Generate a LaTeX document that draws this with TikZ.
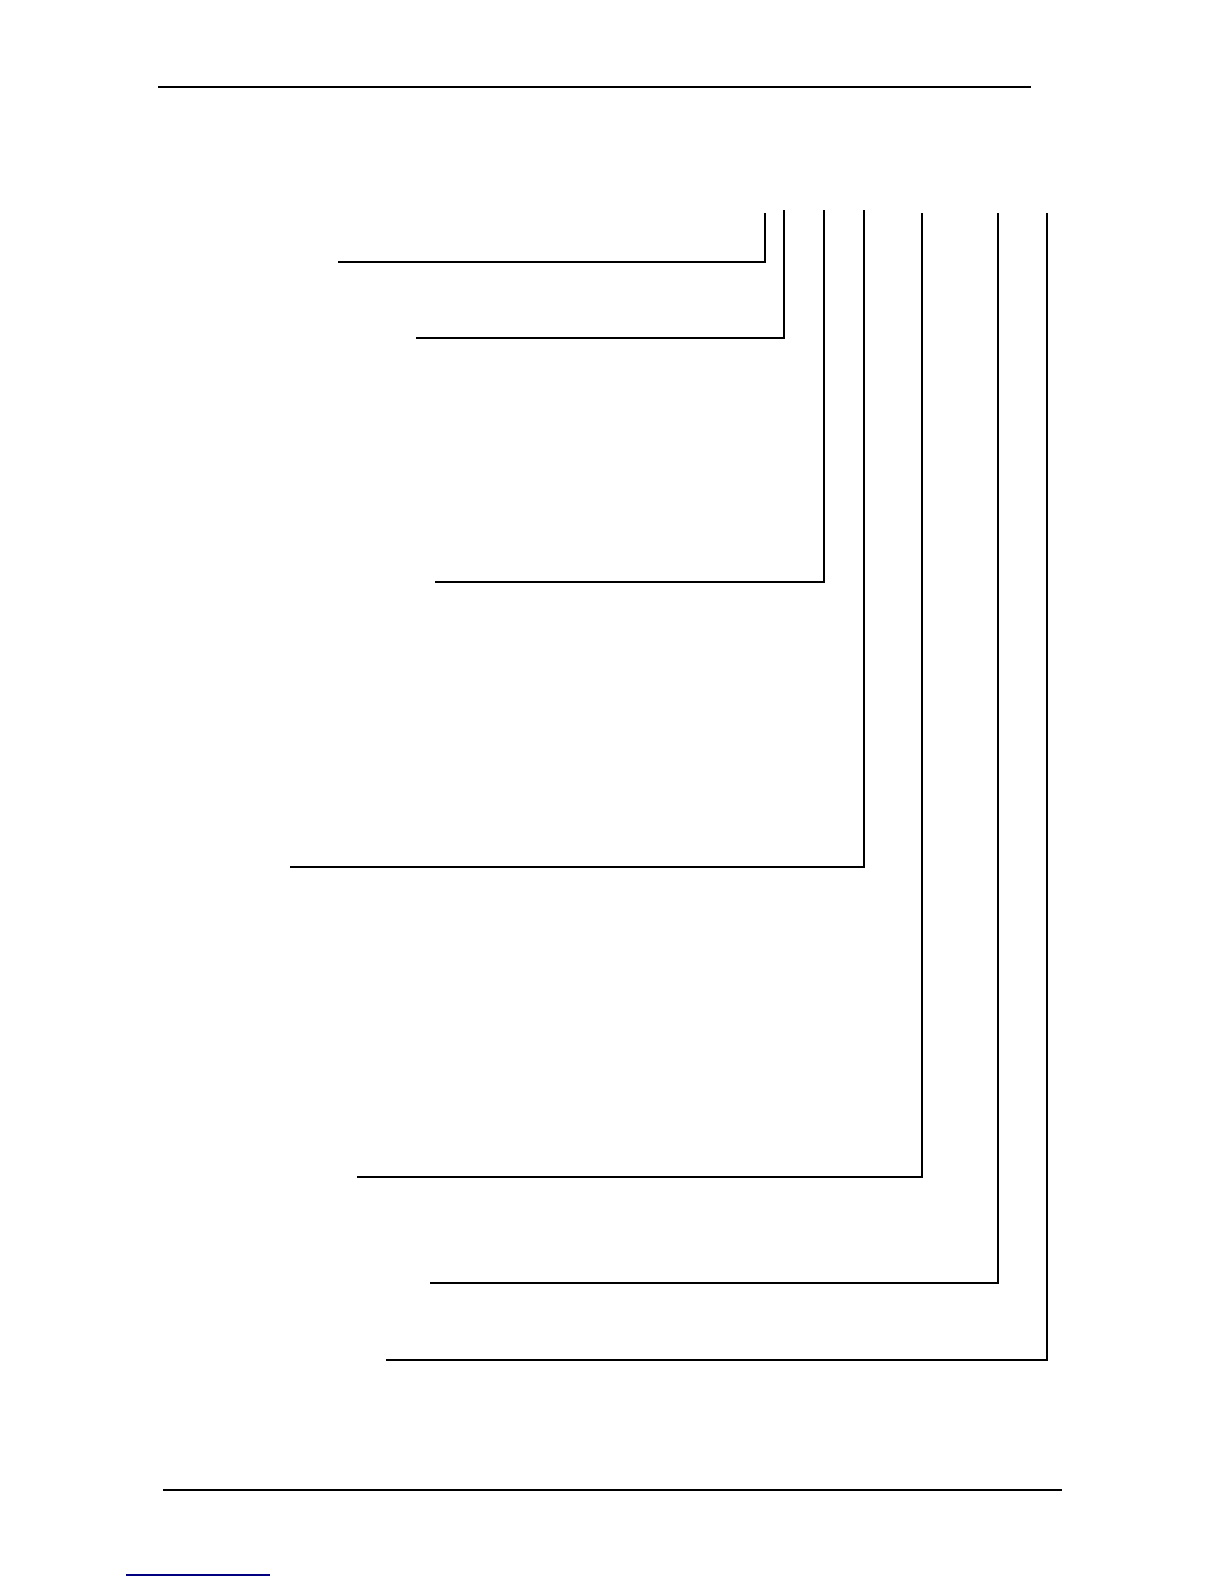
\documentclass[tikz,border=0pt]{standalone}
\usetikzlibrary{positioning}

\tikzstyle{leader}=[draw=black,line width=0.55pt]
\tikzstyle{leaderthick}=[draw=black,line width=0.85pt]
\tikzstyle{pagerule}=[draw=black,line width=0.6pt]
\tikzstyle{footrule}=[draw=black,line width=1.3pt]
\definecolor{linkblue}{RGB}{0,0,128}

\begin{document}
\begin{tikzpicture}[x=0.5pt,y=-0.5pt]

\useasboundingbox (0,0) rectangle (1224,1584);

% header and footer rules
\coordinate (HL) at (158,87);
\coordinate (HR) at (1031,87);
\coordinate (FL) at (163,1490);
\coordinate (FR) at (1062,1490);
\coordinate (LL) at (126,1575);
\coordinate (LR) at (270,1575);

% leader lines: top, corner, end
\coordinate (T1) at (765,213);
\coordinate (C1) at (765,262);
\coordinate (E1) at (338,262);
\coordinate (T2) at (784,210);
\coordinate (C2) at (784,338);
\coordinate (E2) at (416,338);
\coordinate (T3) at (824,210);
\coordinate (C3) at (824,582);
\coordinate (E3) at (435,582);
\coordinate (T4) at (864,210);
\coordinate (C4) at (864,867);
\coordinate (E4) at (290,867);
\coordinate (T5) at (922,213);
\coordinate (C5) at (922,1177);
\coordinate (E5) at (357,1177);
\coordinate (T6) at (998,213);
\coordinate (C6) at (998,1283);
\coordinate (E6) at (430,1283);
\coordinate (T7) at (1047,213);
\coordinate (C7) at (1047,1360);
\coordinate (E7) at (386,1360);

\path [pagerule] (HL) -- (HR);
\path [footrule] (FL) -- (FR);
\path [draw=linkblue,line width=0.6pt] (LL) -- (LR);

\path [leader] (T1) -- (C1) -- (E1);
\path [leader] (T2) -- (C2) -- (E2);
\path [leader] (T3) -- (C3) -- (E3);
\path [leaderthick] (T4) -- (C4) -- (E4);
\path [leaderthick] (T5) -- (C5) -- (E5);
\path [leaderthick] (T6) -- (C6) -- (E6);
\path [leader] (T7) -- (C7) -- (E7);

\end{tikzpicture}
\end{document}
